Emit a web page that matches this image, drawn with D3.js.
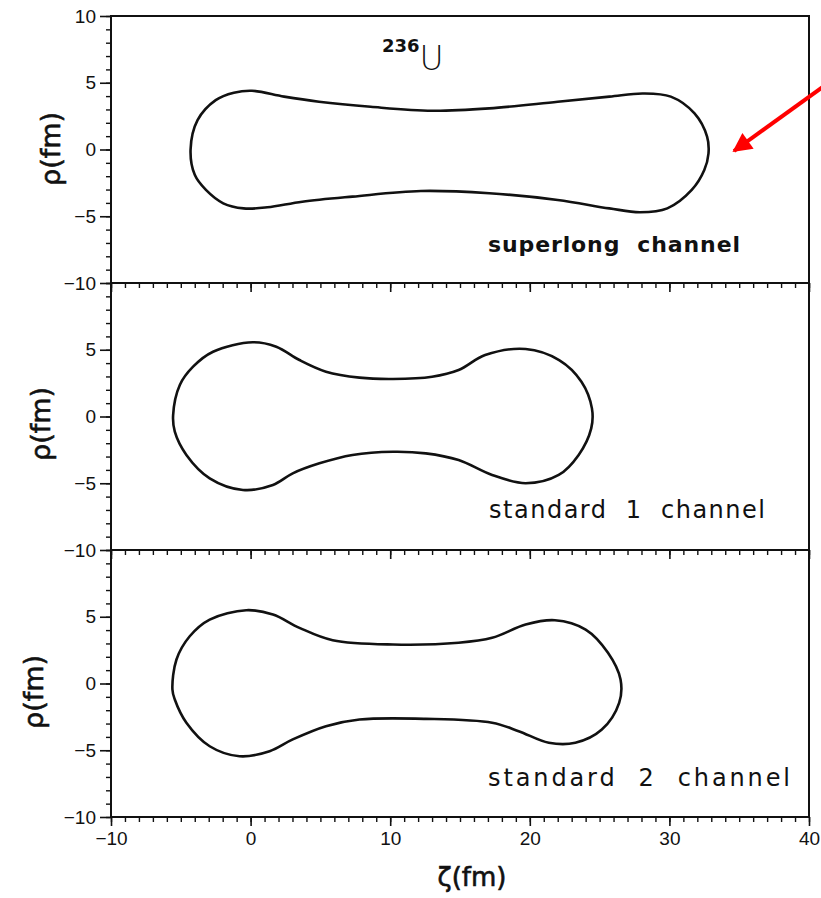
<!DOCTYPE html>
<html>
<head>
<meta charset="utf-8">
<script src="https://cdn.jsdelivr.net/npm/d3@7"></script>
<style>
  body { margin: 0; background: #fff; }
  svg { display: block; }
  text { fill: #111; }
</style>
</head>
<body>
<div id="chart"></div>
<script>
// shapes of 236U at scission, [zeta, rho] in fm, traced upper edge left->right then lower edge right->left
var superlong = [
  [-4.3, 0], [-3.8, 2.2], [-2.5, 3.7], [-1.2, 4.25], [0.1, 4.4], [2.4, 3.96], [4.9, 3.58],
  [8.6, 3.2], [13.0, 2.9], [17.1, 3.08], [22.0, 3.58], [25.7, 3.96], [28.1, 4.2], [30.1, 3.96],
  [31.8, 2.7], [32.7, 0.96], [32.8, -0.3], [32.5, -1.54], [31.6, -3.03], [29.85, -4.41],
  [27.9, -4.7], [25.7, -4.41], [22.0, -3.78], [17.1, -3.28], [12.2, -3.11], [7.3, -3.53],
  [3.7, -3.91], [1.2, -4.33], [-0.5, -4.41], [-1.96, -4.03], [-3.2, -3.03], [-4.0, -1.9]
];
var standard1 = [
  [-5.55, 0.1], [-5.07, 2.36], [-4.12, 3.73], [-2.69, 4.85], [0.16, 5.56], [1.84, 5.23],
  [3.5, 4.23], [5.4, 3.36], [7.8, 2.91], [10.2, 2.81], [13.0, 2.98], [14.9, 3.48], [16.8, 4.6],
  [19.7, 5.06], [22.1, 4.23], [23.7, 2.61], [24.45, 0.61], [24.4, -0.89], [23.5, -2.88],
  [22.07, -4.38], [19.7, -5.0], [17.3, -4.38], [14.9, -3.26], [12.55, -2.76], [10.2, -2.64],
  [7.3, -2.88], [4.93, -3.51], [3.02, -4.26], [1.6, -5.13], [-0.55, -5.5], [-2.93, -4.63],
  [-4.6, -2.88], [-5.43, -1.14]
];
var standard2 = [
  [-5.6, -0.45], [-5.31, 1.8], [-4.36, 3.54], [-2.93, 4.79], [-0.31, 5.49], [1.6, 5.17],
  [3.5, 4.17], [5.88, 3.24], [10.2, 2.92], [14.9, 3.05], [17.3, 3.42], [19.7, 4.42], [21.8, 4.74],
  [24.0, 4.04], [25.6, 2.3], [26.5, 0.3], [26.4, -1.45], [25.16, -3.45], [23.26, -4.44],
  [21.36, -4.44], [19.2, -3.57], [17.3, -2.94], [12.55, -2.65], [7.8, -2.7], [5.4, -3.2],
  [3.02, -4.19], [1.36, -5.07], [-0.79, -5.45], [-2.93, -4.7], [-4.6, -2.94], [-5.43, -1.2]
];
var channels = ["superlong  channel", "standard  1  channel", "standard  2  channel"];
var xTicks = [-10, 0, 10, 20, 30, 40];
var yTicksTop = [-10, -5, 0, 5, 10];
var yTicksLower = [-10, -5, 0, 5];

var shapes = [superlong, standard1, standard2];

var W = 821, H = 898;
var left = 111, right = 809, panelH = 267;
var tops = [16, 283, 550];

var svg = d3.select("#chart").append("svg")
  .attr("width", W).attr("height", H);

var x = d3.scaleLinear().domain([-10, 40]).range([left, right]);

var line = d3.line()
  .curve(d3.curveCatmullRomClosed.alpha(0.5));

var fmt = function(d) { return d < 0 ? "\u2212" + Math.abs(d) : d; };

// label placement per panel
var labelPos = [
  {text: [488, 252, 252], ylab: [50, 149], bold: true, size: 22},
  {text: [489, 518, 276], ylab: [40, 424], bold: false, size: 24},
  {text: [488, 786, 302], ylab: [33, 692], bold: false, size: 24}
];

shapes.forEach(function(shape, i) {
  var top = tops[i];
  var y = d3.scaleLinear().domain([-10, 10]).range([top + panelH, top]);
  var g = svg.append("g");

  // frame
  g.append("rect")
    .attr("x", left).attr("y", top)
    .attr("width", right - left).attr("height", panelH)
    .attr("fill", "none").attr("stroke", "#111").attr("stroke-width", 2);

  // left axis: minor ticks every 1 fm, major every 5
  var yAxis = d3.axisLeft(y)
    .tickValues(i === 0 ? yTicksTop : yTicksLower)
    .tickSize(11).tickPadding(4)
    .tickFormat(fmt);
  var ya = g.append("g").attr("transform", "translate(" + left + ",0)").call(yAxis);
  ya.select(".domain").remove();
  ya.selectAll("line").attr("stroke", "#111").attr("stroke-width", 1.6);
  ya.selectAll("text").attr("font-family", "Liberation Sans, Arial, sans-serif")
    .attr("font-size", 19).attr("fill", "#111");

  var yMinor = d3.axisLeft(y).ticks(20).tickSize(5).tickFormat("");
  var ym = g.append("g").attr("transform", "translate(" + left + ",0)").call(yMinor);
  ym.select(".domain").remove();
  ym.selectAll("line").attr("stroke", "#111").attr("stroke-width", 1.4);

  // bottom axis ticks (outward)
  var xMinor = d3.axisBottom(x).ticks(50).tickSize(5).tickFormat("");
  var xm = g.append("g").attr("transform", "translate(0," + (top + panelH) + ")").call(xMinor);
  xm.select(".domain").remove();
  xm.selectAll("line").attr("stroke", "#111").attr("stroke-width", 1.4);

  var xAxis = d3.axisBottom(x).tickValues(xTicks)
    .tickSize(9).tickPadding(6)
    .tickFormat(fmt);
  var xa = g.append("g").attr("transform", "translate(0," + (top + panelH) + ")").call(xAxis);
  xa.select(".domain").remove();
  xa.selectAll("line").attr("stroke", "#111").attr("stroke-width", 1.6);
  xa.selectAll("text").attr("font-family", "Liberation Sans, Arial, sans-serif")
    .attr("font-size", 19).attr("fill", "#111")
    .style("display", i === 2 ? null : "none");

  // nucleus outline
  g.append("path")
    .datum(shape.map(function(p) { return [x(p[0]), y(p[1])]; }))
    .attr("d", line)
    .attr("fill", "none")
    .attr("stroke", "#111")
    .attr("stroke-width", 2.6);

  // channel label
  var lp = labelPos[i];
  g.append("text")
    .attr("x", lp.text[0]).attr("y", lp.text[1])
    .attr("textLength", lp.text[2]).attr("lengthAdjust", "spacing")
    .attr("font-family", "DejaVu Sans, sans-serif")
    .attr("font-size", lp.size)
    .attr("font-weight", lp.bold ? "bold" : "normal")
    .style("white-space", "pre")
    .text(channels[i]);

  // rho axis label
  g.append("text")
    .attr("transform", "translate(" + lp.ylab[0] + "," + lp.ylab[1] + ") rotate(-90)")
    .attr("text-anchor", "middle").attr("dominant-baseline", "central")
    .attr("font-family", "DejaVu Sans, sans-serif")
    .attr("font-size", 27)
    .attr("stroke", "#111").attr("stroke-width", 0.6)
    .text("\u03c1(fm)");
});

// nucleus name
var nuc = svg.append("text")
  .attr("x", 382).attr("y", 70)
  .attr("font-family", "DejaVu Sans, sans-serif");
nuc.append("tspan").attr("font-size", 18).attr("font-weight", "bold").attr("dy", -18).text("236");
nuc.append("tspan").attr("font-size", 33).attr("font-weight", 200).attr("dy", 18).text("U");

// x axis title
svg.append("text")
  .attr("x", 472).attr("y", 886)
  .attr("text-anchor", "middle")
  .attr("font-family", "DejaVu Sans, sans-serif")
  .attr("font-size", 26)
  .attr("stroke", "#111").attr("stroke-width", 0.6)
  .text("\u03b6(fm)");

// red annotation arrow
svg.append("defs").append("marker")
  .attr("id", "head").attr("viewBox", "0 0 10 10")
  .attr("refX", 9).attr("refY", 5)
  .attr("markerWidth", 5.5).attr("markerHeight", 4.8)
  .attr("markerUnits", "strokeWidth")
  .attr("orient", "auto")
  .append("path").attr("d", "M0,0 L10,5 L0,10 z").attr("fill", "#f00");
svg.append("line")
  .attr("x1", 824).attr("y1", 86).attr("x2", 734).attr("y2", 151)
  .attr("stroke", "#f00").attr("stroke-width", 4)
  .attr("marker-end", "url(#head)");
</script>
</body>
</html>
